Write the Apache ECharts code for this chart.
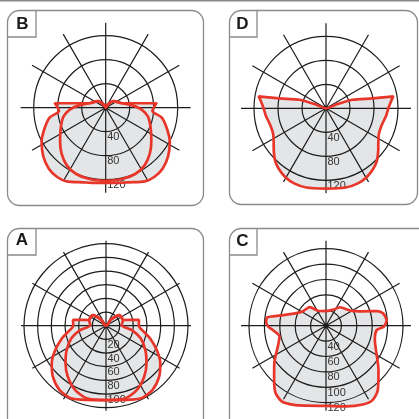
<!DOCTYPE html>
<html><head><meta charset="utf-8">
<script src="https://cdn.jsdelivr.net/npm/echarts/dist/echarts.min.js"></script>
<style>html,body{margin:0;padding:0;background:#fff}#c{width:419px;height:419px}</style>
</head><body><div id="c"></div>
<script>
// ---- Panel B (two curves) ----
const bWideAngles = [0,9,17,28,35,43,52,62,71,80,86,95,106,130,150,180,210,230,254,265,274,280,289,298,308,317,325,332,343,351,360];
const bWideRadii  = [125,127,130,139,141,139,132,121,108,95,78,85,27,17,5,0,5,17,27,85,78,95,108,121,132,139,141,139,130,127,125];
const bNarrowAngles = [0,13,24,34,44,54,66,78,87,95,105,130,150,180,210,230,255,265,273,282,294,306,316,326,336,347,360];
const bNarrowRadii  = [122,122,121,116,106,94,82,72,60,45,29,17,5,0,5,17,29,45,60,72,82,94,106,116,121,122,122];
const bTickLabels = ['40','80','120'];

// ---- Panel D ----
const dAngles = [0,14,23,31,38,44,51,57,64,73,83,90,97,100,102,108,110,180,250,252,258,260,263,270,277,287,296,303,309,316,322,329,337,346,360];
const dRadii  = [134,136,136,133,128,122,112,104,98,97,101,104,110,114,79,46,17,0,17,46,79,114,110,104,101,97,98,104,112,122,128,133,136,136,134];
const dTickLabels = ['40','80','120'];

// ---- Panel A (two curves) ----
const aWideAngles = [0,14,26,36,46,55,64,74,81,90,100,108,128,140,180,220,232,252,260,270,279,286,296,305,314,324,334,346,360];
const aWideRadii  = [109,112,118,116,108,97,83,67,56,48,49,27,25,12,0,12,25,27,49,48,56,67,83,97,108,116,118,112,109];
const aNarrowAngles = [0,15,26,37,47,58,70,80,92,108,128,140,180,220,232,252,268,280,290,302,313,323,334,345,360];
const aNarrowRadii  = [109,110,104,93,81,68,54,39,23,26,25,12,0,12,25,26,23,39,54,68,81,93,104,110,109];
const aTickLabels = ['20','40','60','80','100'];

// ---- Panel C ----
const cAngles = [0,14,22,30,37,44,54,61,68,77,85,89,94,98,100,104,112,120,139,152,180,205,217,238,249,254,258,265,271,275,286,299,310,321,328,335,346,360];
const cRadii  = [124,127,131,134,129,117,103,94,87,82,89,95,98,97,90,77,63,56,52,42,39,43,50,57,72,89,96,99,95,86,86,95,109,127,134,133,128,124];
const cTickLabels = ['40','60','80','100','120'];

const RED = '#e8362a', FILL = '#e4e5e7', GRID = '#1c1c1c', BORDER = '#8a8a8a', NONE = 'rgba(0,0,0,0)';

// ringMax: last drawn ring; axisMax: scale end (room for values beyond the last ring)
const panels = [
  {letter:'B', cx:105.7, cy:107.7, ringR:72, min:0, ringMax:120, axisMax:160, interval:40, ticks:bTickLabels,
   curves:[[bWideAngles,bWideRadii],[bNarrowAngles,bNarrowRadii]],
   box:{x:7.5,y:10.5,w:196,h:195}, lab:{x:36,y:37}, let:{x:22.5,y:24.5}},
  {letter:'D', cx:326, cy:108.3, ringR:72, min:0, ringMax:120, axisMax:160, interval:40, ticks:dTickLabels,
   curves:[[dAngles,dRadii]],
   box:{x:229.5,y:10.5,w:188,h:194}, lab:{x:257,y:37}, let:{x:242.3,y:24.5}},
  {letter:'A', cx:106, cy:325.7, ringR:82, min:0, ringMax:120, axisMax:140, interval:20, ticks:aTickLabels,
   curves:[[aWideAngles,aWideRadii],[aNarrowAngles,aNarrowRadii]],
   box:{x:7.5,y:228.5,w:196,h:230}, lab:{x:36,y:255}, let:{x:22,y:240.5}},
  {letter:'C', cx:326, cy:325.7, ringR:77, min:20, ringMax:120, axisMax:140, interval:20, ticks:cTickLabels,
   curves:[[cAngles,cRadii]],
   box:{x:229.5,y:228.5,w:230,h:230}, lab:{x:257,y:255}, let:{x:242.3,y:241.5}}
];

const polar = [], angleAxis = [], radiusAxis = [], series = [], graphic = [];
graphic.push({type:'line', shape:{x1:0,y1:0.75,x2:419,y2:0.75}, style:{stroke:BORDER, lineWidth:1.5}, z:0});
panels.forEach((p, i) => {
  const gi = 2*i, si = 2*i+1;
  const outerR = p.ringR * (p.axisMax - p.min) / (p.ringMax - p.min);
  polar.push({center:[p.cx,p.cy], radius:outerR});
  polar.push({center:[p.cx,p.cy], radius:85});
  const baseAngle = {type:'value', min:0, max:360, interval:30, startAngle:270, clockwise:true,
    axisLine:{show:false}, axisTick:{show:false}, axisLabel:{show:false}, z:1};
  angleAxis.push(Object.assign({polarIndex:gi, splitLine:{show:false}}, baseAngle));
  angleAxis.push(Object.assign({polarIndex:si, splitLine:{show:true, lineStyle:{color:GRID, width:1.2}}}, baseAngle));
  const ringColors = [];
  for (let v = p.min; v <= p.axisMax; v += p.interval) ringColors.push(v <= p.ringMax ? GRID : NONE);
  radiusAxis.push({polarIndex:gi, type:'value', min:p.min, max:p.axisMax, interval:p.interval, z:1,
    axisLine:{show:false}, axisTick:{show:false},
    splitLine:{show:true, lineStyle:{color:ringColors, width:1.2}},
    axisLabel:{show:true, margin:1.5, align:'left', verticalAlign:'top', color:'#333', fontSize:11,
      fontFamily:'"Liberation Sans Narrow","Liberation Sans",Arial,sans-serif',
      showMinLabel:true, showMaxLabel:true, hideOverlap:false,
      formatter: v => p.ticks.includes(String(v)) ? String(v) : ''}});
  radiusAxis.push({polarIndex:si, type:'value', min:0, max:1, axisLine:{show:false}, axisTick:{show:false},
    axisLabel:{show:false}, splitLine:{show:false}});
  p.curves.forEach(([angs, rads]) => {
    const data = angs.map((a, k) => [rads[k], a]);
    series.push({type:'line', coordinateSystem:'polar', polarIndex:gi, data, symbol:'none', smooth:0.25,
      clip:false, silent:true, z:0, lineStyle:{width:0, opacity:0}, areaStyle:{color:FILL, opacity:1}});
    series.push({type:'line', coordinateSystem:'polar', polarIndex:gi, data, symbol:'none', smooth:0.25,
      clip:false, silent:true, z:3, lineStyle:{color:RED, width:2.7}});
  });
  const b = p.box;
  graphic.push({type:'rect', shape:{x:b.x, y:b.y, width:b.w, height:b.h, r:12},
    style:{fill:'none', stroke:BORDER, lineWidth:1.3}, z:0});
  graphic.push({type:'polyline', shape:{points:[[p.lab.x, b.y],[p.lab.x, p.lab.y],[b.x, p.lab.y]]},
    style:{fill:'none', stroke:BORDER, lineWidth:1.3}, z:0});
  graphic.push({type:'text', x:p.let.x, y:p.let.y, z:5,
    style:{text:p.letter, fill:'#1a1a1a', font:'bold 17px "Liberation Sans Narrow","Liberation Sans",Arial,sans-serif',
      align:'center', verticalAlign:'middle'}});
});

const chart = echarts.init(document.getElementById('c'), null, {renderer:'canvas'});
chart.setOption({animation:false, backgroundColor:'#fff', polar, angleAxis, radiusAxis, series, graphic});
</script></body></html>
